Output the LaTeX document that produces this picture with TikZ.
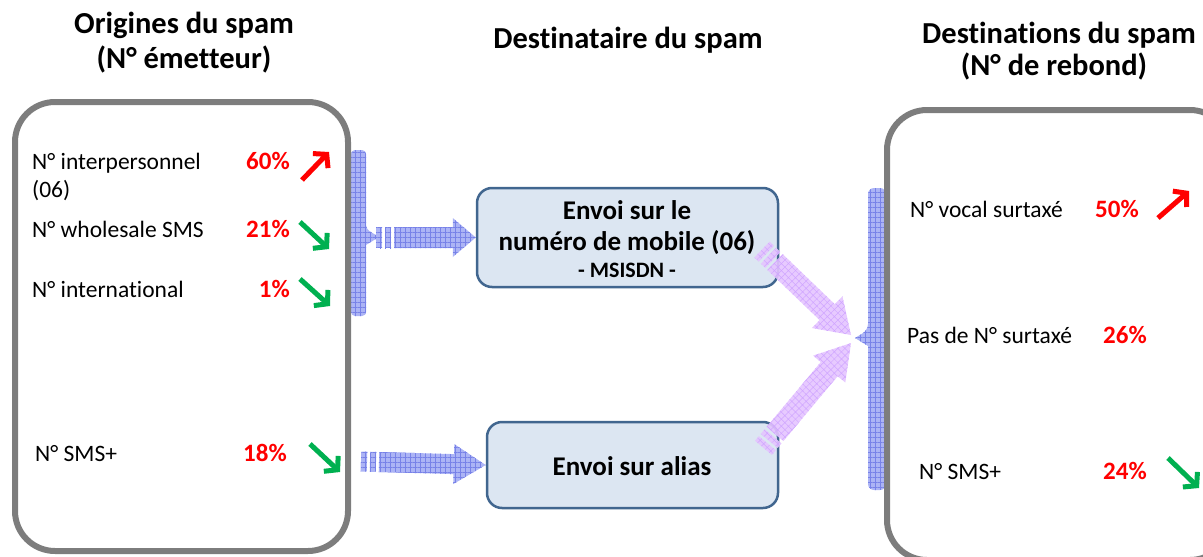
\documentclass[tikz,border=0pt]{standalone}
\usepackage{fontspec}
\setmainfont[Ligatures=NoCommon]{Carlito}
\usetikzlibrary{calc,arrows.meta,patterns.meta}
\definecolor{boxgray}{RGB}{125,125,125}
\definecolor{midfill}{RGB}{220,230,242}
\definecolor{midline}{RGB}{65,102,143}
\definecolor{bluefill}{RGB}{172,180,245}
\definecolor{blueline}{RGB}{120,130,232}
\definecolor{purpfill}{RGB}{228,196,255}
\definecolor{purpline}{RGB}{208,165,255}
\definecolor{trendred}{RGB}{255,0,0}
\definecolor{trendgreen}{RGB}{0,176,80}
\tikzset{
  outerbox/.style={draw=boxgray,line width=6pt,rounded corners=40pt},
  midbox/.style={draw=midline,fill=midfill,line width=2.5pt,rounded corners=15pt,inner sep=0pt},
  bluehatch/.style={fill=bluefill,postaction={pattern={Hatch[distance=5pt,line width=0.6pt]},pattern color=blueline}},
  purphatch/.style={fill=purpfill,fill opacity=0.9,postaction={pattern={Hatch[distance=5pt,angle=45,line width=0.5pt]},pattern color=purpline}},
  title/.style={font=\fontsize{30.5}{34}\selectfont\bfseries,anchor=base},
  item/.style={font=\fontsize{23.5}{28}\selectfont,anchor=base west,inner sep=0pt},
  pct/.style={font=\fontsize{25}{28}\selectfont\bfseries,text=trendred,inner sep=0pt},
  midtext/.style={font=\fontsize{27}{30}\selectfont\bfseries,anchor=base},
  up/.style={draw=trendred,line width=5pt,-{Straight Barb[length=9pt,width=21pt]}},
  down/.style={draw=trendgreen,line width=5pt,-{Straight Barb[length=9pt,width=21pt]}},
}
% block arrow: #1 start, #2 tip, #3 body half width, #4 head half width, #5 head length, #6 style
\newcommand\blkarrow[6]{%
  \coordinate (bh) at ($(#2)!#5!(#1)$);
  \path[#6] ($(#1)!#3!90:(#2)$) -- ($(bh)!#3!90:(#2)$) -- ($(bh)!#4!90:(#2)$) -- (#2)
     -- ($(bh)!#4!-90:(#2)$) -- ($(bh)!#3!-90:(#2)$) -- ($(#1)!#3!-90:(#2)$) -- cycle;
  \coordinate (da) at ($(#1)!-3pt!(#2)$);
  \coordinate (db) at ($(#1)!-9pt!(#2)$);
  \coordinate (dc) at ($(#1)!-12pt!(#2)$);
  \coordinate (dd) at ($(#1)!-18pt!(#2)$);
  \path[#6] ($(da)!#3!90:(#2)$) -- ($(db)!#3!90:(#2)$) -- ($(db)!#3!-90:(#2)$) -- ($(da)!#3!-90:(#2)$) -- cycle;
  \path[#6] ($(dc)!#3!90:(#2)$) -- ($(dd)!#3!90:(#2)$) -- ($(dd)!#3!-90:(#2)$) -- ($(dc)!#3!-90:(#2)$) -- cycle;
}
\begin{document}
\begin{tikzpicture}[x=1pt,y=-1pt]
\useasboundingbox (0,0) rectangle (1203,557);
\clip (0,0) rectangle (1203,557);

% titles
\node[title] (t1) at (184,33) {Origines du spam};
\node[title] (t1b) at (184,68) {(N° émetteur)};
\node[title] (t2) at (628,48) {Destinataire du spam};
\node[title] (t3) at (1059,43) {Destinations du spam};
\node[title] (t3b) at (1054,75) {(N° de rebond)};

% brace bars
\path[bluehatch,rounded corners=4pt] (351,150) -- (366,150) -- (366,229) [sharp corners] -- (379,237) -- (366,245) [rounded corners=4pt] -- (366,316) -- (351,316) -- cycle;
\path[bluehatch,rounded corners=6pt] (886,188) -- (868,188) -- (868,330) [sharp corners] -- (855,338) -- (868,346) [rounded corners=6pt] -- (868,490) -- (886,490) -- cycle;

% outer boxes
\draw[outerbox] (15,102) rectangle (348,551);
\draw[outerbox] (887,110) rectangle (1230,560);

% middle boxes
\node[midbox,minimum width=301pt,minimum height=99pt] (mob) at (627.5,237.5) {};
\node[midbox,minimum width=291pt,minimum height=86pt] (alias) at (632.5,465) {};
\node[midtext] (mob1) at (627,219) {Envoi sur le};
\node[midtext] (mob2) at (627,250) {numéro de mobile (06)};
\node[font=\fontsize{22}{24}\selectfont\bfseries,anchor=base] (mob3) at (627,277) {- MSISDN -};
\node[midtext] (al1) at (632,475) {Envoi sur alias};

% blue block arrows
\coordinate (a1s) at (394,237.5);
\coordinate (a1e) at (mob.west);
\blkarrow{a1s}{a1e}{10.5pt}{19.5pt}{23pt}{bluehatch}
\coordinate (a2s) at (379,462);
\coordinate (a2e) at (alias.west);
\blkarrow{a2s}{a2e}{10pt}{20pt}{32pt}{bluehatch}

% purple block arrows
\coordinate (p1s) at (775,262);
\coordinate (p1e) at (851,335);
\blkarrow{p1s}{p1e}{11pt}{22pt}{33pt}{purphatch}
\coordinate (p2s) at (775,434);
\coordinate (p2e) at (851,343);
\blkarrow{p2s}{p2e}{11pt}{21pt}{34pt}{purphatch}

% left items
\node[item] (l1) at (32,169) {N° interpersonnel};
\node[item] (l1b) at (32,197) {(06)};
\node[item] (l2) at (32,237) {N° wholesale SMS};
\node[item] (l3) at (32,297) {N° international};
\node[item] (l4) at (35,461) {N° SMS+};
\node[pct,anchor=base east] (p1) at (290,169) {60\%};
\node[pct,anchor=base east] (p2) at (290,237) {21\%};
\node[pct,anchor=base east] (p3) at (290,297) {1\%};
\node[pct,anchor=base east] (p4) at (287,461) {18\%};
\coordinate (u1a) at (302,180); \coordinate (u1b) at (329,152);
\draw[up] (u1a) -- (u1b);
\coordinate (d1a) at (300,222); \coordinate (d1b) at (329,249);
\draw[down] (d1a) -- (d1b);
\coordinate (d2a) at (300,279); \coordinate (d2b) at (330,306);
\draw[down] (d2a) -- (d2b);
\coordinate (d3a) at (310,444); \coordinate (d3b) at (340,472);
\draw[down] (d3a) -- (d3b);

% right items
\node[item] (r1) at (910,217) {N° vocal surtaxé};
\node[item] (r2) at (907,343) {Pas de N° surtaxé};
\node[item] (r3) at (919,479) {N° SMS+};
\node[pct,anchor=base west] (q1) at (1095,217) {50\%};
\node[pct,anchor=base west] (q2) at (1103,343) {26\%};
\node[pct,anchor=base west] (q3) at (1103,479) {24\%};
\coordinate (u2a) at (1158,218); \coordinate (u2b) at (1189,191);
\draw[up] (u2a) -- (u2b);
\coordinate (d4a) at (1168,458); \coordinate (d4b) at (1199,488);
\draw[down] (d4a) -- (d4b);
\end{tikzpicture}
\end{document}
